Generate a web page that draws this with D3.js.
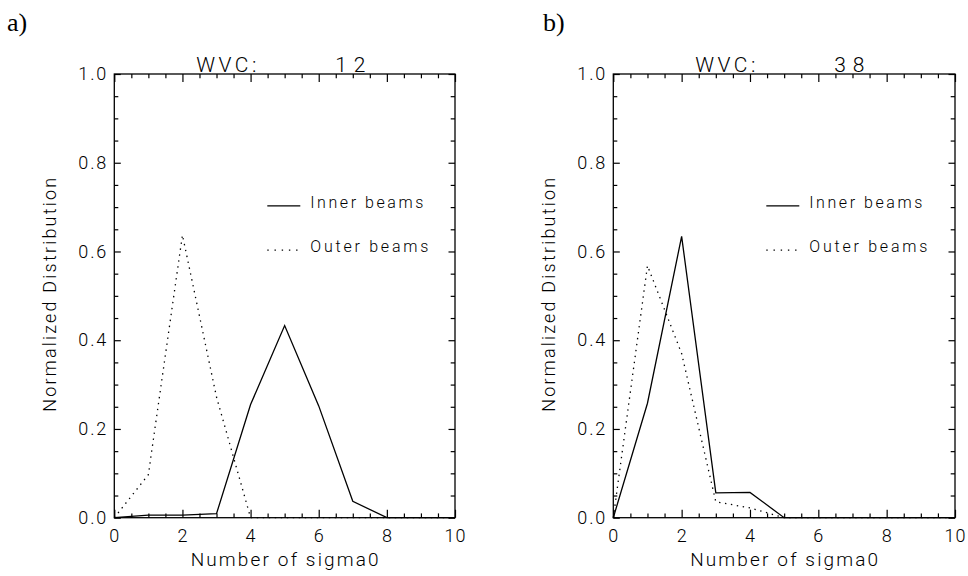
<!DOCTYPE html>
<html>
<head>
<meta charset="utf-8">
<script src="https://cdn.jsdelivr.net/npm/d3@7"></script>
<style>
  html, body { margin: 0; padding: 0; background: #fff; }
  svg { display: block; }
  text { font-family: Roboto, "DejaVu Sans", sans-serif; font-weight: 300; fill: #000; }
  .plabel { font-family: "Liberation Serif", "DejaVu Serif", serif; font-weight: 400; }
</style>
</head>
<body>
<svg id="chart" width="968" height="576"></svg>
<script>
// ---- data ----
const xValues = [0, 1, 2, 3, 4, 5, 6, 7, 8, 9, 10];
const innerA = [0, 0.006, 0.006, 0.009, 0.255, 0.433, 0.252, 0.037, 0, 0, 0];
const outerA = [0, 0.097, 0.637, 0.272, 0, 0, 0, 0, 0, 0, 0];
const innerB = [0, 0.258, 0.634, 0.056, 0.057, 0, 0, 0, 0, 0, 0];
const outerB = [0, 0.568, 0.37, 0.036, 0.022, 0, 0, 0, 0, 0, 0];
const panelLabels = ["a)", "b)"];
const wvcValues = ["12", "38"];
const xTickLabels = ["0", "2", "4", "6", "8", "10"];
const yTickLabels = ["0.0", "0.2", "0.4", "0.6", "0.8", "1.0"];
const legendLabels = ["Inner beams", "Outer beams"];
const xTitle = "Number of sigma0";
const yTitle = "Normalized Distribution";

const svg = d3.select("#chart");

function drawPanel(left, right, top, bottom, inner, outer, label, wvc, labelX) {
  const g = svg.append("g");
  const x = d3.scaleLinear().domain([0, 10]).range([left, right]);
  const y = d3.scaleLinear().domain([0, 1]).range([bottom, top]);

  // frame
  g.append("rect").attr("x", left).attr("y", top)
    .attr("width", right - left).attr("height", bottom - top)
    .attr("fill", "none").attr("stroke", "#000").attr("stroke-width", 1.3);

  const xMajor = d3.range(0, 10.001, 2);
  const xMinor = d3.range(0, 10.001, 0.5).filter(v => Math.abs(v / 2 - Math.round(v / 2)) > 1e-6);
  const yMajor = d3.range(0, 1.0001, 0.2);
  const yMinor = d3.range(0, 1.0001, 0.05).filter(v => Math.abs(v / 0.2 - Math.round(v / 0.2)) > 1e-6);

  function tickAxis(axisGen, tickVals, len, transform) {
    const a = g.append("g").attr("transform", transform)
      .call(axisGen.tickValues(tickVals).tickSize(len).tickFormat(""));
    a.select(".domain").remove();
    a.selectAll("line").attr("stroke", "#000").attr("stroke-width", 1.2);
  }
  tickAxis(d3.axisTop(x), xMajor, 8, `translate(0,${bottom})`);
  tickAxis(d3.axisTop(x), xMinor, 4.3, `translate(0,${bottom})`);
  tickAxis(d3.axisBottom(x), xMajor, 8, `translate(0,${top})`);
  tickAxis(d3.axisBottom(x), xMinor, 4.3, `translate(0,${top})`);
  tickAxis(d3.axisRight(y), yMajor, 6.5, `translate(${left},0)`);
  tickAxis(d3.axisRight(y), yMinor, 4, `translate(${left},0)`);
  tickAxis(d3.axisLeft(y), yMajor, 6.5, `translate(${right},0)`);
  tickAxis(d3.axisLeft(y), yMinor, 4.3, `translate(${right},0)`);

  // tick labels
  const xl = g.append("g").attr("transform", `translate(0,${bottom + 9})`)
    .call(d3.axisBottom(x).tickValues(xMajor).tickSize(0).tickPadding(0)
      .tickFormat((d, i) => xTickLabels[i]));
  xl.select(".domain").remove();
  xl.selectAll("text").attr("font-size", 18).attr("font-family", null)
    .attr("dy", "0.85em").attr("letter-spacing", 1);

  const yl = g.append("g").attr("transform", `translate(${left - 8},0)`)
    .call(d3.axisLeft(y).tickValues(yMajor).tickSize(0).tickPadding(0)
      .tickFormat((d, i) => yTickLabels[i]));
  yl.select(".domain").remove();
  yl.selectAll("text").attr("font-size", 18).attr("font-family", null)
    .attr("textLength", 28).attr("lengthAdjust", "spacing");

  // axis titles
  g.append("text").attr("x", (left + right) / 2).attr("y", bottom + 48)
    .attr("text-anchor", "middle").attr("font-size", 19)
    .attr("textLength", 188).attr("lengthAdjust", "spacing").text(xTitle);
  g.append("text")
    .attr("transform", `translate(${left - 58},${(top + bottom) / 2 - 1}) rotate(-90)`)
    .attr("text-anchor", "middle").attr("font-size", 18)
    .attr("textLength", 234).attr("lengthAdjust", "spacing").text(yTitle);

  // title
  g.append("text").attr("x", left + 82).attr("y", top - 2)
    .attr("font-size", 21).attr("textLength", 60).attr("lengthAdjust", "spacing").text("WVC:");
  g.append("text").attr("x", left + 251).attr("y", top - 2).attr("text-anchor", "end")
    .attr("font-size", 21).attr("textLength", 30).attr("lengthAdjust", "spacing").text(wvc);

  // panel label
  g.append("text").attr("class", "plabel").attr("x", labelX).attr("y", 31)
    .attr("font-size", 26).text(label);

  // data lines
  const line = d3.line().x((d, i) => x(xValues[i])).y(d => y(d));
  g.append("path").datum(outer).attr("d", line)
    .attr("fill", "none").attr("stroke", "#000").attr("stroke-width", 1.3)
    .attr("stroke-dasharray", "1.4 4.6");
  g.append("path").datum(inner).attr("d", line)
    .attr("fill", "none").attr("stroke", "#000").attr("stroke-width", 1.3);

  // legend
  const lx0 = left + 153, lx1 = left + 186, tx = left + 196;
  const ly = [y(0.703), y(0.603)];
  g.append("line").attr("x1", lx0).attr("x2", lx1).attr("y1", ly[0]).attr("y2", ly[0])
    .attr("stroke", "#000").attr("stroke-width", 1.3);
  g.append("line").attr("x1", lx0).attr("x2", lx1 + 2).attr("y1", ly[1]).attr("y2", ly[1])
    .attr("stroke", "#000").attr("stroke-width", 1.3).attr("stroke-dasharray", "1.4 5.8");
  g.append("text").attr("x", tx).attr("y", ly[0] + 2).attr("font-size", 16)
    .attr("textLength", 113).attr("lengthAdjust", "spacing").text(legendLabels[0]);
  g.append("text").attr("x", tx).attr("y", ly[1] + 2).attr("font-size", 16)
    .attr("textLength", 118).attr("lengthAdjust", "spacing").text(legendLabels[1]);
}

drawPanel(114.3, 455, 74, 517.7, innerA, outerA, panelLabels[0], wvcValues[0], 7);
drawPanel(613.3, 955, 74, 517.7, innerB, outerB, panelLabels[1], wvcValues[1], 543);
</script>
</body>
</html>
